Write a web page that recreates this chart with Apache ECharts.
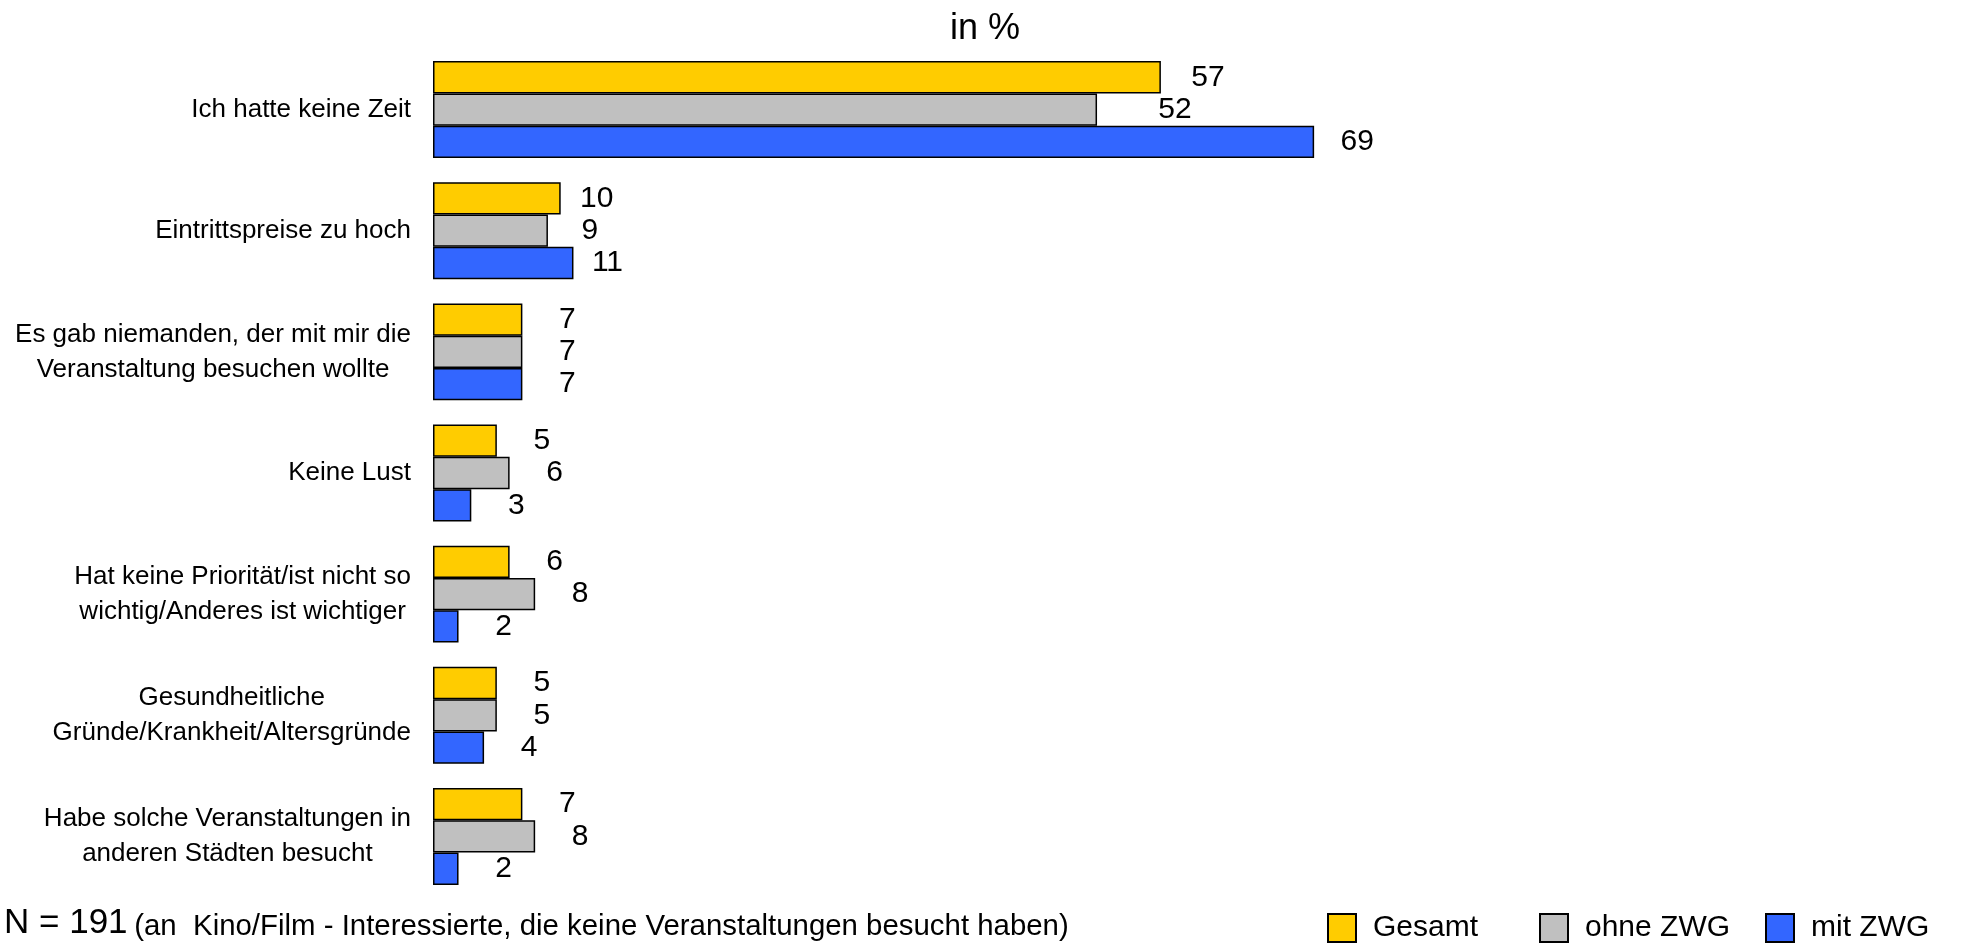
<!DOCTYPE html>
<html>
<head>
<meta charset="utf-8">
<script src="https://cdn.jsdelivr.net/npm/echarts@6/dist/echarts.min.js"></script>
<style>
  html, body { margin: 0; padding: 0; background: #fff; }
  #chart { width: 1961px; height: 943px; }
</style>
</head>
<body>
<div id="chart"></div>
<script>
// ---- data ----
var categories = [
  'Ich hatte keine Zeit',
  'Eintrittspreise zu hoch',
  'Es gab niemanden, der mit mir die\nVeranstaltung besuchen wollte',
  'Keine Lust',
  'Hat keine Priorität/ist nicht so\nwichtig/Anderes ist wichtiger',
  'Gesundheitliche\nGründe/Krankheit/Altersgründe',
  'Habe solche Veranstaltungen in\nanderen Städten besucht'
];
var seriesNames = ['Gesamt', 'ohne ZWG', 'mit ZWG'];
var gesamt  = [57, 10, 7, 5, 6, 5, 7];
var ohneZWG = [52, 9, 7, 6, 8, 5, 8];
var mitZWG  = [69, 11, 7, 3, 2, 4, 2];
var titleText = 'in %';
var footNumber = 'N = 191';
var footText = '(an  Kino/Film - Interessierte, die keine Veranstaltungen besucht haben)';

// ---- styling ----
var FONT = "'Liberation Sans', Arial, sans-serif";
var colors = ['#FFCC00', '#C0C0C0', '#3366FF'];
var labelDist = 45;
// individual label distance tweaks (series index -> {category index: distance})
var labelTweaks = {
  0: {0: 47, 1: 36},
  1: {0: 78, 1: 42},
  2: {0: 43, 1: 34}
};
var legendLeft = [1327, 1539, 1765];

var values = [gesamt, ohneZWG, mitZWG];

function buildData(si) {
  return values[si].map(function (v, i) {
    var t = labelTweaks[si] && labelTweaks[si][i];
    if (t !== undefined) {
      return { value: v, label: { distance: t } };
    }
    return v;
  });
}

var series = seriesNames.map(function (name, si) {
  return {
    name: name,
    type: 'bar',
    data: buildData(si),
    barGap: '0%',
    barCategoryGap: '20%',
    itemStyle: { color: colors[si], borderColor: '#000', borderWidth: 1.5 },
    label: {
      show: true,
      position: 'right',
      align: 'center',
      distance: labelDist,
      fontSize: 30,
      fontFamily: FONT,
      color: '#000'
    },
    emphasis: { disabled: true },
    animation: false
  };
});

var legends = seriesNames.map(function (name, si) {
  return {
    data: [name],
    left: legendLeft[si],
    top: 913,
    padding: 0,
    icon: 'rect',
    itemWidth: 28,
    itemHeight: 28,
    selectedMode: false,
    textStyle: { fontSize: 30, fontFamily: FONT, color: '#000', padding: [0, 0, 0, 12] }
  };
});

var chart = echarts.init(document.getElementById('chart'), null, { renderer: 'canvas' });
chart.setOption({
  backgroundColor: '#fff',
  animation: false,
  title: {
    text: titleText,
    left: 980,
    textAlign: 'center',
    top: 6,
    textStyle: { fontSize: 36, fontWeight: 'normal', fontFamily: FONT, color: '#000' }
  },
  legend: legends,
  grid: { left: 433, top: 49, width: 1277, height: 848, containLabel: false },
  xAxis: {
    type: 'value',
    min: 0,
    max: 100,
    show: false
  },
  yAxis: {
    type: 'category',
    data: categories,
    inverse: true,
    axisLine: { show: false },
    axisTick: { show: false },
    splitLine: { show: false },
    axisLabel: {
      margin: 22,
      fontSize: 26,
      lineHeight: 35,
      fontFamily: FONT,
      color: '#000',
      formatter: function (v) {
        return v.split('\n').map(function (l) { return '{c|' + l + '}'; }).join('\n');
      },
      rich: {
        c: { align: 'center', fontSize: 26, lineHeight: 35, fontFamily: FONT, color: '#000' }
      }
    }
  },
  graphic: [{
    type: 'text',
    left: 4,
    top: 906,
    style: {
      text: '{a|' + footNumber + '}  {b|' + footText + '}',
      rich: {
        a: { fontSize: 35, fontFamily: FONT, color: '#000', verticalAlign: 'bottom', lineHeight: 40 },
        b: { fontSize: 29.4, fontFamily: FONT, color: '#000', verticalAlign: 'bottom', lineHeight: 40 }
      }
    }
  }],
  series: series
});
</script>
</body>
</html>
